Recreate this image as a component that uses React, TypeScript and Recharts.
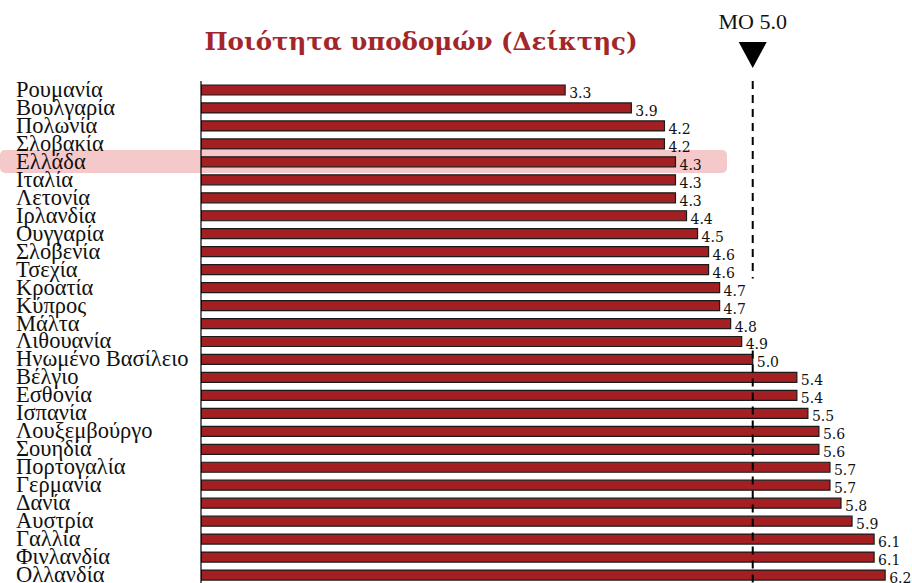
import { BarChart, Bar, XAxis, YAxis, LabelList, ReferenceLine } from "recharts";

document.body.style.margin = "0";

const countries = [
  "Ρουμανία", "Βουλγαρία", "Πολωνία", "Σλοβακία", "Ελλάδα", "Ιταλία", "Λετονία",
  "Ιρλανδία", "Ουγγαρία", "Σλοβενία", "Τσεχία", "Κροατία", "Κύπρος", "Μάλτα",
  "Λιθουανία", "Ηνωμένο Βασίλειο", "Βέλγιο", "Εσθονία", "Ισπανία", "Λουξεμβούργο",
  "Σουηδία", "Πορτογαλία", "Γερμανία", "Δανία", "Αυστρία", "Γαλλία", "Φινλανδία",
  "Ολλανδία",
];
const scores = [
  3.3, 3.9, 4.2, 4.2, 4.3, 4.3, 4.3, 4.4, 4.5, 4.6, 4.6, 4.7, 4.7, 4.8, 4.9, 5.0,
  5.4, 5.4, 5.5, 5.6, 5.6, 5.7, 5.7, 5.8, 5.9, 6.1, 6.1, 6.2,
];
const average = 5.0;
const highlighted = "Ελλάδα";
// rows where the average line is drawn (it breaks between Κροατία and Λιθουανία)
const lineRows = [
  [0, 11],
  [15, 28],
];
const xDomain = [0, 6.38];

const data = countries.map((name, i) => ({ name, value: scores[i] }));

const W = 912;
const H = 584;
const TOP = 81;
const LEFT = 201;
const band = (H - TOP) / data.length;
const serif = "'Liberation Serif', 'Times New Roman', serif";
const valueFont = "'DejaVu Serif', Georgia, serif";

function CountryTick({ y, payload }: any) {
  return (
    <text x={16} y={y} dy={7} fontFamily={serif} fontSize={22.5} fill="#111" textAnchor="start">
      {payload.value}
    </text>
  );
}

function AverageLine(props: any) {
  const x = props.x1;
  const top = Math.min(props.y1, props.y2);
  const bottom = Math.max(props.y1, props.y2);
  const b = (bottom - top) / data.length;
  return (
    <g>
      {lineRows.map(([from, to]) => (
        <line
          key={from}
          x1={x}
          x2={x}
          y1={top + from * b}
          y2={top + to * b}
          stroke="#000"
          strokeWidth={2}
          strokeDasharray="8 6"
        />
      ))}
      <polygon points={`${x - 14},${top - 39} ${x + 14},${top - 39} ${x},${top - 13}`} fill="#000" />
      <text x={x} y={top - 52} textAnchor="middle" fontFamily={serif} fontSize={22} fill="#111">
        ΜΟ 5.0
      </text>
    </g>
  );
}

export default function App() {
  const hiIdx = countries.indexOf(highlighted);
  return (
    <div style={{ position: "relative", width: W, height: H, background: "#fff", overflow: "hidden" }}>
      <div
        style={{
          position: "absolute",
          left: 0,
          top: TOP + hiIdx * band + band / 2 - 11.5,
          width: 727,
          height: 23,
          background: "#f5c8ca",
          borderRadius: 5,
        }}
      />
      <div
        style={{
          position: "absolute",
          left: 121,
          width: 600,
          top: 24,
          lineHeight: "36px",
          textAlign: "center",
          fontFamily: valueFont,
          fontWeight: 700,
          fontSize: 24.5,
          color: "#a3262a",
          whiteSpace: "nowrap",
        }}
      >
        Ποιότητα υποδομών (Δείκτης)
      </div>
      <div style={{ position: "absolute", left: 0, top: 0 }}>
        <BarChart
          width={W}
          height={H}
          data={data}
          layout="vertical"
          margin={{ top: TOP, right: 7, bottom: 0, left: 0 }}
          barCategoryGap={0}
        >
          <XAxis type="number" domain={xDomain} hide allowDataOverflow />
          <YAxis
            type="category"
            dataKey="name"
            width={LEFT}
            tick={<CountryTick />}
            tickLine={false}
            axisLine={{ stroke: "#000", strokeWidth: 1.2 }}
            interval={0}
          />
          <Bar
            dataKey="value"
            barSize={10}
            fill="#a31f22"
            stroke="#1a1a1a"
            strokeWidth={1.2}
            isAnimationActive={false}
          >
            <LabelList
              dataKey="value"
              position="right"
              offset={4}
              dy={3}
              formatter={(v: any) => Number(v).toFixed(1)}
              style={{ fontFamily: valueFont, fontSize: 14, fill: "#111" }}
            />
          </Bar>
          <ReferenceLine x={average} shape={<AverageLine />} ifOverflow="visible" />
        </BarChart>
      </div>
    </div>
  );
}
